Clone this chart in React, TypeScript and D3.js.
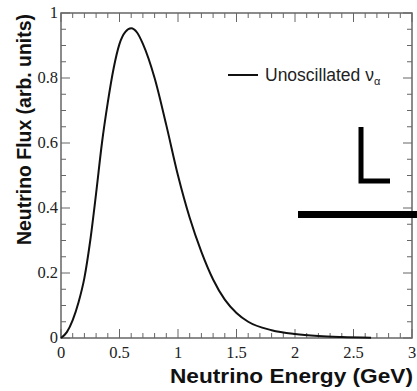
import React from 'react';
import * as d3 from 'd3';

// flux curve
const energy = [0, 0.05, 0.1, 0.15, 0.2, 0.25, 0.3, 0.35, 0.4, 0.45, 0.5, 0.55, 0.6, 0.65, 0.7, 0.8, 0.9, 1.0, 1.1, 1.2, 1.3, 1.4, 1.5, 1.6, 1.8, 2.0, 2.2, 2.4, 2.65];
const flux = [0, 0.018, 0.055, 0.11, 0.185, 0.3, 0.445, 0.6, 0.725, 0.83, 0.905, 0.942, 0.953, 0.94, 0.905, 0.8, 0.655, 0.5, 0.37, 0.265, 0.18, 0.118, 0.077, 0.05, 0.024, 0.012, 0.006, 0.003, 0.001];

const xTickLabels = [0, 0.5, 1, 1.5, 2, 2.5, 3];
const yTickLabels = [0, 0.2, 0.4, 0.6, 0.8, 1];

const W = 417;
const H = 391;
const margin = { top: 13, right: 5, bottom: 53, left: 61 };

const App: React.FC = () => {
  const innerW = W - margin.left - margin.right;
  const innerH = H - margin.top - margin.bottom;

  const x = d3.scaleLinear().domain([0, 3]).range([0, innerW]);
  const y = d3.scaleLinear().domain([0, 1]).range([innerH, 0]);

  const line = d3.line<number>()
    .x((_, i) => x(energy[i]))
    .y(d => y(d))
    .curve(d3.curveMonotoneX);

  const xMinor = d3.range(0, 31).map(i => i / 10);
  const yMinor = d3.range(0, 21).map(i => i / 20);
  const axisColor = '#666';
  const serif = "'Liberation Serif', 'DejaVu Serif', serif";
  const sans = "'Liberation Sans', Arial, sans-serif";

  return (
    <svg width={W} height={H} style={{ position: 'absolute', left: 0, top: 0, background: '#fff' }}>
      <g transform={`translate(${margin.left},${margin.top})`}>
        {/* x ticks, bottom and top */}
        {xMinor.map((t, i) => {
          const len = i % 5 === 0 ? 9 : 5;
          return (
            <g key={`xt${i}`} stroke={axisColor} strokeWidth={1}>
              <line x1={x(t)} x2={x(t)} y1={innerH} y2={innerH - len} />
              <line x1={x(t)} x2={x(t)} y1={0} y2={len} />
            </g>
          );
        })}
        {/* y ticks, left and right */}
        {yMinor.map((t, i) => {
          const len = i % 4 === 0 ? 9 : 5;
          return (
            <g key={`yt${i}`} stroke={axisColor} strokeWidth={1}>
              <line x1={0} x2={len} y1={y(t)} y2={y(t)} />
              <line x1={innerW} x2={innerW - len} y1={y(t)} y2={y(t)} />
            </g>
          );
        })}
        <rect x={0} y={0} width={innerW} height={innerH} fill="none" stroke={axisColor} strokeWidth={1.5} />

        <path d={line(flux) || ''} fill="none" stroke="#111" strokeWidth={2} />

        {xTickLabels.map(t => (
          <text key={`xl${t}`} x={x(t)} y={innerH + 20} textAnchor="middle" style={{ fontFamily: serif, fontSize: 16.5 }} fill="#222">
            {t}
          </text>
        ))}
        {yTickLabels.map(t => (
          <text key={`yl${t}`} x={-3} y={y(t)} dy="0.3em" textAnchor="end" style={{ fontFamily: serif, fontSize: 16.5 }} fill="#222">
            {t}
          </text>
        ))}

        {/* legend */}
        <line x1={167} x2={197} y1={62} y2={62} stroke="#111" strokeWidth={2} />
        <text x={204} y={68} style={{ fontFamily: sans, fontSize: 17.5 }} fill="#222">
          Unoscillated ν<tspan style={{ fontSize: 11 }} dy={4}>α</tspan>
        </text>
      </g>

      <text x={170} y={383} textLength={243} lengthAdjust="spacingAndGlyphs" style={{ fontFamily: sans, fontWeight: 'bold', fontSize: 21 }} fill="#111">
        Neutrino Energy (GeV)
      </text>
      <text transform="translate(31,245) rotate(-90)" textLength={231} lengthAdjust="spacingAndGlyphs" style={{ fontFamily: sans, fontWeight: 'bold', fontSize: 20.5 }} fill="#111">
        Neutrino Flux (arb. units)
      </text>

      {/* overlay marks present in the image */}
      <path d="M361,127 V181 H390" fill="none" stroke="#000" strokeWidth={5} />
      <rect x={298} y={211} width={119} height={7} fill="#000" />
    </svg>
  );
};

export default App;
